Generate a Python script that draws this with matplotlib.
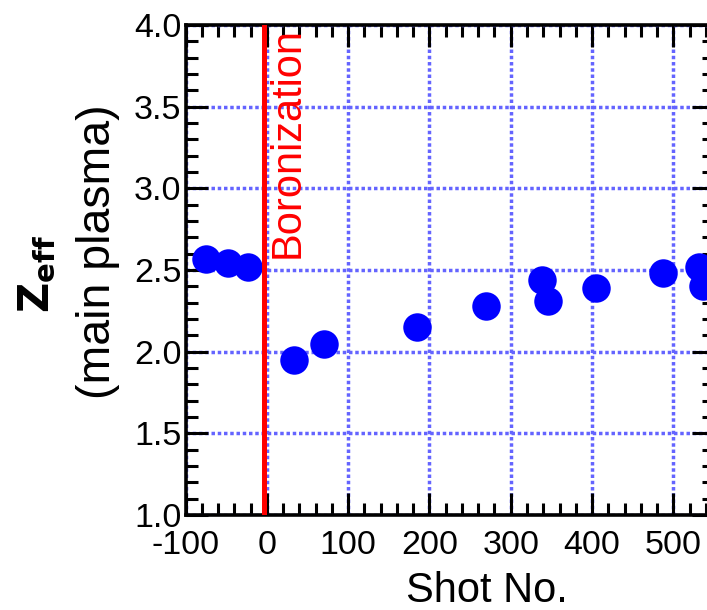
"""
Zeff of the main plasma vs shot number,
before and after boronization
"""
import numpy as np
import matplotlib as mpl
import matplotlib.pyplot as plt
from matplotlib.ticker import MultipleLocator

# shot numbers relative to boronization, and Zeff
shot = [-75, -48, -23, 34, 70, 185, 270, 339, 346, 405, 487, 532, 536]
zeff = [2.57, 2.54, 2.52, 1.95, 2.05, 2.15, 2.28, 2.44, 2.31, 2.39, 2.48, 2.52, 2.40]

boronization_shot = -3
x_ticks = [-100, 0, 100, 200, 300, 400, 500]
y_ticks = [1.0, 1.5, 2.0, 2.5, 3.0, 3.5, 4.0]


def plot_zeff(x: list, y: list):
    plt.rcParams['font.family'] = ['Liberation Sans', 'DejaVu Sans']
    plt.rcParams['axes.unicode_minus'] = False

    fig = plt.figure(figsize=(7.07, 6.10), dpi=100)
    # right edge of the axes sits just outside the picture
    ax = fig.add_axes([0.2624, 0.1557, 0.7475, 0.8033])

    ax.set_xlim(-100, 550)
    ax.set_ylim(1.0, 4.0)
    ax.set_xticks(x_ticks)
    ax.set_yticks(y_ticks)
    ax.set_yticklabels(['%.1f' % v for v in y_ticks])
    ax.xaxis.set_minor_locator(MultipleLocator(20))
    ax.yaxis.set_minor_locator(MultipleLocator(0.1))

    ax.tick_params(which='both', direction='in', top=True, right=True,
                   width=2.2, color='black')
    ax.tick_params(which='major', length=16, labelsize=24.5)
    ax.tick_params(which='minor', length=8.5)
    ax.tick_params(axis='x', which='major', pad=11)
    ax.tick_params(axis='y', which='major', pad=3)
    for sp in ax.spines.values():
        sp.set_linewidth(2.6)

    ax.grid(True, which='major', color='#6464ff', linewidth=2.5,
            linestyle=(0, (1, 0.8)), zorder=0)
    ax.set_axisbelow(True)

    ax.plot(x, y, 'o', color='#0000ff', markersize=20.5,
            markeredgewidth=0, zorder=3)
    ax.axvline(boronization_shot, color='red', linewidth=3.6, zorder=4)
    ax.text(26, 3.985, 'Boronization', rotation=90, color='red',
            fontsize=30, ha='center', va='top', zorder=5)

    fig.text(486.7 / 707, 8 / 610, 'Shot No.', fontsize=30,
             ha='center', va='baseline')
    fig.text(38 / 707, 1 - 274 / 610, r'$\mathbf{Z_{eff}}$', fontsize=30,
             rotation=90, ha='center', va='center')
    fig.text(98 / 707, 1 - 252 / 610, '(main plasma)', fontsize=33.5,
             rotation=90, ha='center', va='center')

    fig.savefig('out.png', dpi=100)


def main():
    plot_zeff(shot, zeff)


if __name__ == '__main__':
    main()
